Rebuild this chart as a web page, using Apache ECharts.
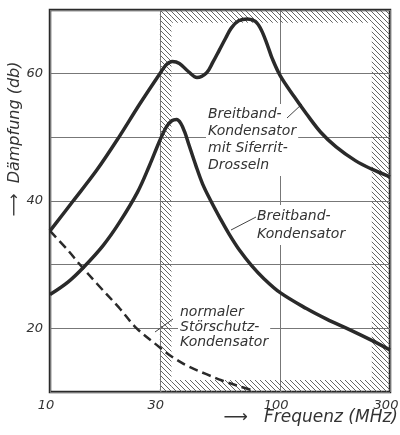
<!DOCTYPE html>
<html><head><meta charset="utf-8">
<script src="https://cdn.jsdelivr.net/npm/echarts@6/dist/echarts.min.js"></script>
<style>html,body{margin:0;padding:0;background:#fff}#c{width:400px;height:435px}</style>
</head><body><div id="c"></div>
<script>
// ---- data ----
const xTickLabels = [10, 30, 100, 300];
const yTickLabels = [20, 40, 60];
const freqSiferrit = [10, 12.6, 16, 19.9, 24.5, 30, 32, 34, 36.5, 40, 43.5, 47.8, 51, 54.4, 58, 61.4, 66, 72, 78, 82.7, 88, 92.3, 100, 115, 130, 150, 175, 213, 250, 300];
const dbSiferrit   = [35.3, 40, 44.9, 50, 55.2, 60, 61.4, 61.9, 61.6, 60.3, 59.4, 60.1, 61.8, 63.7, 65.6, 67.2, 68.3, 68.6, 68.2, 66.9, 64.5, 62.4, 59.7, 56.4, 53.7, 50.8, 48.5, 46.3, 45, 43.8];
const freqBreitband = [10, 12, 14, 17, 20, 24, 27, 30, 32, 33.8, 35.5, 37, 38.5, 40, 43, 46, 50, 55, 60, 66.5, 75, 85, 100, 130, 160, 200, 250, 300];
const dbBreitband   = [25.3, 27.3, 29.6, 33, 36.6, 41.4, 45.5, 49.5, 51.6, 52.6, 52.8, 52.2, 50.8, 49, 45.6, 42.7, 40, 37.2, 34.8, 32.3, 29.9, 27.8, 25.6, 23.1, 21.4, 19.8, 18.1, 16.6];
const freqNormal = [10, 12, 13.5, 16, 20, 23.8, 30, 34, 40, 47.8, 56, 66.5, 75];
const dbNormal   = [35.3, 32.2, 30, 27, 23.2, 20, 17, 15.5, 14, 12.8, 11.8, 10.9, 10.3];
const hatchFreq = [30, 300];      // hatched frequency band (MHz)

const zip = (xs, ys) => xs.map((x, i) => [x, ys[i]]);

function hatchPattern() {
  const s = 5, c = document.createElement('canvas');
  c.width = s; c.height = s;
  const g = c.getContext('2d');
  g.strokeStyle = '#555'; g.lineWidth = 0.9;
  g.beginPath();
  g.moveTo(0, 0); g.lineTo(s, s);
  g.moveTo(-1, s - 1); g.lineTo(1, s + 1);
  g.moveTo(s - 1, -1); g.lineTo(s + 1, 1);
  g.stroke();
  return c;
}
const hatch = { image: hatchPattern(), repeat: 'repeat' };
const F = '"DejaVu Sans", "Liberation Sans", sans-serif';
const ink = '#2a2a2a';

const chart = echarts.init(document.getElementById('c'), null, { renderer: 'canvas' });
chart.setOption({
  animation: false,
  backgroundColor: '#fff',
  grid: { left: 50, right: 10, top: 10, bottom: 43, show: true, borderColor: ink, borderWidth: 2.5,
          containLabel: false, outerBoundsMode: 'none' },
  xAxis: {
    type: 'log', logBase: 10, min: 10, max: 300,
    name: '⟶   Frequenz (MHz)', nameLocation: 'end', nameGap: 8, nameMoveOverlap: false,
    nameTextStyle: { fontFamily: F, fontStyle: 'italic', fontSize: 17, color: '#333', align: 'right', verticalAlign: 'top', padding: [17, 0, 0, 0] },
    axisLine: { show: false }, axisTick: { show: false },
    axisLabel: { customValues: xTickLabels, fontFamily: F, fontStyle: 'italic', fontSize: 13, color: '#333', margin: 7,
      padding: [0, 8, 0, 0], formatter: v => String(Math.round(v)) },
    splitLine: { show: true, lineStyle: { color: '#777', width: 1 } }
  },
  yAxis: {
    type: 'value', min: 10, max: 70, interval: 10,
    name: '⟶  Dämpfung (db)', nameLocation: 'middle', nameRotate: 90, nameGap: 27, nameMoveOverlap: false,
    nameTextStyle: { fontFamily: F, fontStyle: 'italic', fontSize: 16, color: '#333', padding: [0, 0, 0, 124] },
    axisLine: { show: false }, axisTick: { show: false },
    axisLabel: { fontFamily: F, fontStyle: 'italic', fontSize: 13, color: '#333', margin: 7,
      formatter: v => yTickLabels.includes(v) ? String(v) : '' },
    splitLine: { show: true, lineStyle: { color: '#777', width: 1 } }
  },
  graphic: [
    { type: 'text', z: 1, left: 206, top: 104, style: { text: 'Breitband-\nKondensator\nmit Siferrit-\nDrosseln', font: 'italic 14px ' + F, lineHeight: 17, fill: '#333', backgroundColor: '#fff', padding: [2, 2] } },
    { type: 'text', z: 1, left: 255, top: 205, style: { text: 'Breitband-\nKondensator', font: 'italic 14px ' + F, lineHeight: 18, fill: '#333', backgroundColor: '#fff', padding: [2, 2] } },
    { type: 'text', z: 1, left: 178, top: 303, style: { text: 'normaler\nStörschutz-\nKondensator', font: 'italic 14px ' + F, lineHeight: 15, fill: '#333', backgroundColor: '#fff', padding: [2, 2] } },
    { type: 'line', z: 1, shape: { x1: 287, y1: 118, x2: 302, y2: 104 }, style: { stroke: '#444', lineWidth: 1 } },
    { type: 'line', z: 1, shape: { x1: 256, y1: 217, x2: 231, y2: 230 }, style: { stroke: '#444', lineWidth: 1 } },
    { type: 'line', z: 1, shape: { x1: 173, y1: 319, x2: 155, y2: 332 }, style: { stroke: '#444', lineWidth: 1 } }
  ],
  series: [
    {
      name: 'Breitband-Kondensator mit Siferrit-Drosseln', type: 'line', smooth: 0.35, symbol: 'none',
      data: zip(freqSiferrit, dbSiferrit), lineStyle: { color: ink, width: 3.5 }, z: 5,
      markArea: {
        silent: true, itemStyle: { color: hatch },
        data: [
          [{ xAxis: hatchFreq[0], yAxis: 10 }, { xAxis: 33.7, yAxis: 70 }],
          [{ xAxis: 33.7, yAxis: 68 }, { xAxis: 250, yAxis: 70 }],
          [{ xAxis: 250, yAxis: 10 }, { xAxis: hatchFreq[1], yAxis: 70 }],
          [{ xAxis: 33.7, yAxis: 10 }, { xAxis: 250, yAxis: 11.9 }]
        ]
      },
      markLine: {
        silent: true, symbol: 'none', label: { show: false },
        lineStyle: { color: '#777', width: 1, type: 'solid' },
        data: [{ xAxis: hatchFreq[0] }]
      }
    },
    {
      name: 'Breitband-Kondensator', type: 'line', smooth: 0.35, symbol: 'none',
      data: zip(freqBreitband, dbBreitband), lineStyle: { color: ink, width: 3.5 }, z: 5
    },
    {
      name: 'normaler Störschutz-Kondensator', type: 'line', smooth: 0.35, symbol: 'none',
      data: zip(freqNormal, dbNormal), lineStyle: { color: ink, width: 2.5, type: [9, 5] }, z: 5
    }
  ]
});
</script></body></html>
